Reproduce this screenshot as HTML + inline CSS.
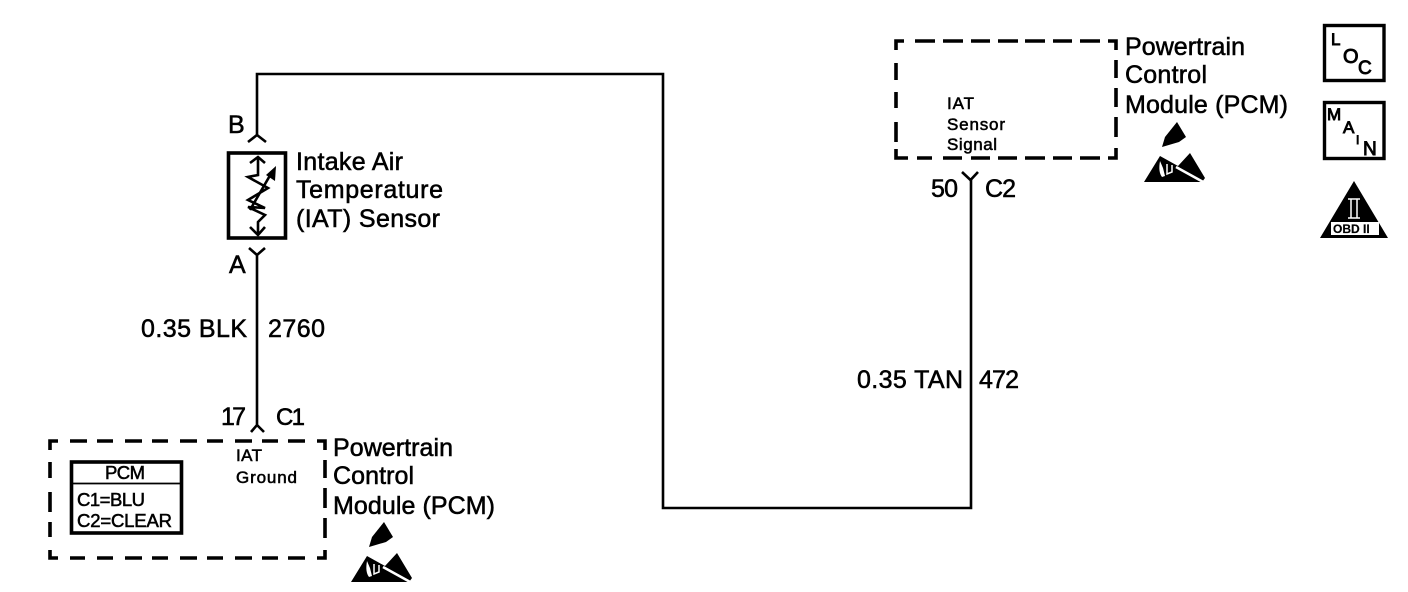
<!DOCTYPE html>
<html><head><meta charset="utf-8"><style>
html,body{margin:0;padding:0;background:#fff;width:1408px;height:592px;overflow:hidden}
svg{display:block}
text{font-family:"Liberation Sans",sans-serif;fill:#000;stroke:#000;stroke-width:.55px}
.l{font-size:25px}
.s{font-size:17px}
.m{font-size:18.500px}
.b{stroke-width:.9px}
</style></head><body>
<svg width="1408" height="592" viewBox="0 0 1408 592" xmlns="http://www.w3.org/2000/svg">
<g fill="none" stroke="#000" stroke-width="2.600">
<path d="M257 135V74H663V508H971V180"/>
<path d="M248 142L257 135L266 142M249 248L257 255L265 248M257 255V425M251 432L257 425L264 432M962 172L970.500 180L978 172"/>
<rect x="228.500" y="153" width="57" height="85" stroke-width="3.600"/>
<rect x="71.500" y="462" width="110" height="71" stroke-width="3.600"/>
<path d="M72 483.500H181" stroke-width="1.800"/>
<rect x="1324.500" y="25.500" width="59.500" height="55" stroke-width="3.400"/>
<rect x="1324.500" y="102.500" width="59.500" height="56" stroke-width="3.400"/>
<g stroke-width="3.600">
<path d="M904 41H896V50M915 41H935M943 41H963M971 41H990M998 41H1018M1025 41H1045M1053 41H1072M1080 41H1100M1108 41H1116V50M1116 60V78M1116 88V107M1116 117V137M1116 148V158H1108M1100 158H1080M1072 158H1053M1045 158H1025M1017 158H998M990 158H971M962 158H943M932 158H917M908 158H896V149M896 142V122M896 108V92M896 80V63"/>
<path d="M58 441H50V450M70 441H87M97 441H113M125 441H142M152 441H168M180 441H197M207 441H223M235 441H252M262 441H278M288 441H305M317 441H325V450M325 460V478M325 488V508M325 518V538M325 550V558H317M305 558H288M278 558H262M252 558H235M223 558H207M197 558H180M168 558H152M142 558H125M113 558H97M85 558H70M58 558H50V550M50 537V522M50 512V492M50 478V462"/>
</g>
<!-- resistor -->
<path d="M258 157V175L248 177L268 188L248 200L265 208L248 207L265 215L258 222V235M250 163L258 157L265 163M250 227L258 235L265 227" stroke-width="2.600"/>
<path d="M250 210L272 172" stroke-width="2.600"/>
</g>
<path d="M276 166L275 181L266 175Z" fill="#000"/>
<text class="l" x="228" y="133">B</text>
<text class="l" x="229" y="273">A</text>
<text class="l" x="296" y="170" textLength="107">Intake Air</text>
<text class="l" x="296" y="198" textLength="147">Temperature</text>
<text class="l" x="296" y="227" textLength="144">(IAT) Sensor</text>
<text class="l" x="141" y="337" textLength="106">0.35 BLK</text>
<text class="l" x="268" y="337" textLength="57">2760</text>
<text class="l" x="221" y="425" textLength="25">17</text>
<text class="l" x="276" y="425" style="font-size:24px" textLength="29">C1</text>
<text class="l" x="931" y="197" textLength="27">50</text>
<text class="l" x="985" y="197" textLength="31">C2</text>
<text class="l" x="857" y="388" textLength="106">0.35 TAN</text>
<text class="l" x="979" y="388" textLength="40">472</text>
<text class="l" x="1125" y="55" textLength="120">Powertrain</text>
<text class="l" x="1125" y="83" textLength="82">Control</text>
<text class="l" x="1125" y="113" textLength="163">Module (PCM)</text>
<text class="l" x="333" y="456" textLength="120">Powertrain</text>
<text class="l" x="333" y="484" textLength="81">Control</text>
<text class="l" x="333" y="514" textLength="162">Module (PCM)</text>
<text class="s" x="236" y="461" textLength="26">IAT</text>
<text class="s" x="236" y="483" textLength="61">Ground</text>
<text class="s" x="947" y="109" textLength="27">IAT</text>
<text class="s" x="947" y="130" textLength="58">Sensor</text>
<text class="s" x="947" y="150" textLength="50">Signal</text>
<text class="m" x="105" y="479" textLength="40">PCM</text>
<text class="m" x="77" y="506" textLength="68">C1=BLU</text>
<text class="m" x="77" y="527" textLength="95">C2=CLEAR</text>
<text class="b" x="1331" y="45" style="font-size:17px">L</text>
<text class="b" x="1343" y="63" style="font-size:20px">O</text>
<text class="b" x="1358" y="74" style="font-size:19px">C</text>
<text class="b" x="1327" y="120" style="font-size:17px">M</text>
<text class="b" x="1343" y="133" style="font-size:17px">A</text>
<text class="b" x="1356" y="144" style="font-size:12px">I</text>
<text class="b" x="1363" y="155" style="font-size:19px">N</text>
<!-- OBD -->
<path d="M1354 181L1388 238H1320Z" fill="#000"/>
<rect x="1331" y="222" width="48" height="13" fill="#fff"/>
<path d="M1348 199H1360M1348 218H1360M1351 199V218M1357 199V218" stroke="#fff" stroke-width="1.500" fill="none"/>
<text x="1333" y="233" style="font-size:12px;font-weight:bold;stroke-width:.2px">OBD II</text>
<!-- ESD right -->
<path d="M1177 122L1186 137L1179 142L1162 147L1165 137Z" fill="#000"/>
<path d="M1144 182L1160 156L1178 166L1190 153L1205 178L1202 182Z" fill="#000"/>
<path d="M1176 167L1205 183" stroke="#fff" stroke-width="2.500" fill="none"/>
<path d="M1160 161Q1158 172 1162 177L1165 176L1163 168Z" fill="#fff"/>
<path d="M1167 164V174L1172 172V165" stroke="#fff" stroke-width="1.500" fill="none"/>
<!-- ESD left -->
<g transform="translate(-793 400)">
<path d="M1177 122L1186 137L1179 142L1162 147L1165 137Z" fill="#000"/>
<path d="M1144 182L1160 156L1178 166L1190 153L1205 178L1202 182Z" fill="#000"/>
<path d="M1176 167L1205 183" stroke="#fff" stroke-width="2.500" fill="none"/>
<path d="M1160 161Q1158 172 1162 177L1165 176L1163 168Z" fill="#fff"/>
<path d="M1167 164V174L1172 172V165" stroke="#fff" stroke-width="1.500" fill="none"/>
</g>
</svg>
</body></html>
